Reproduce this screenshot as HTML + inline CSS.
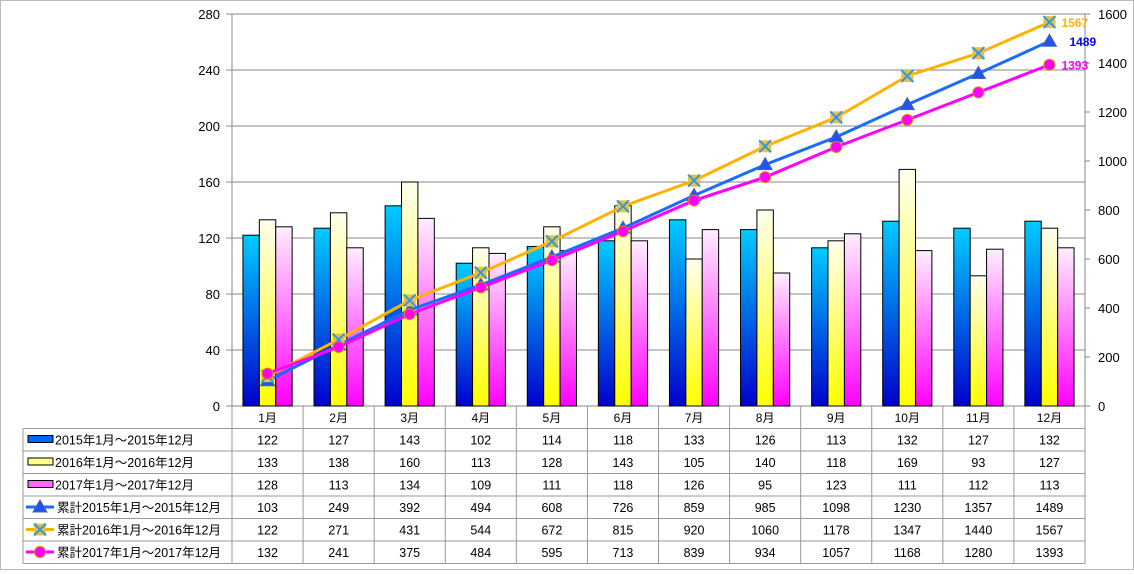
<!DOCTYPE html>
<html><head><meta charset="utf-8"><style>
body{margin:0;background:#fff;}
svg text{font-family:"Liberation Sans","Noto Sans CJK JP",sans-serif;}
</style></head><body>
<svg id="c" width="1134" height="570" xmlns="http://www.w3.org/2000/svg">
<defs>
<linearGradient id="g0" x1="0" y1="0" x2="0" y2="1"><stop offset="0" stop-color="#00ccff"/><stop offset="1" stop-color="#0000cc"/></linearGradient>
<linearGradient id="g1" x1="0" y1="0" x2="0" y2="1"><stop offset="0" stop-color="#ffffee"/><stop offset="1" stop-color="#ffff00"/></linearGradient>
<linearGradient id="g2" x1="0" y1="0" x2="0" y2="1"><stop offset="0" stop-color="#ffeeff"/><stop offset="1" stop-color="#ff00ff"/></linearGradient>
</defs>
<rect x="0.5" y="0.5" width="1133" height="569" fill="#fff" stroke="#bbb"/>
</svg>
<script>
const categories=["1月","2月","3月","4月","5月","6月","7月","8月","9月","10月","11月","12月"];
const bar2015=[122,127,143,102,114,118,133,126,113,132,127,132];
const bar2016=[133,138,160,113,128,143,105,140,118,169,93,127];
const bar2017=[128,113,134,109,111,118,126,95,123,111,112,113];
const cum2015=[103,249,392,494,608,726,859,985,1098,1230,1357,1489];
const cum2016=[122,271,431,544,672,815,920,1060,1178,1347,1440,1567];
const cum2017=[132,241,375,484,595,713,839,934,1057,1168,1280,1393];
const leftTicks=[0,40,80,120,160,200,240,280];
const rightTicks=[0,200,400,600,800,1000,1200,1400,1600];
const barNames=["2015年1月～2015年12月","2016年1月～2016年12月","2017年1月～2017年12月"];
const lineNames=["累計2015年1月～2015年12月","累計2016年1月～2016年12月","累計2017年1月～2017年12月"];

const svg=document.getElementById('c');const NS="http://www.w3.org/2000/svg";
const L=232,R=1085,T=14,B=406,cw=(R-L)/categories.length;
const yL=v=>B-v/280*(B-T), yR=v=>B-v/1600*(B-T), xC=i=>L+cw*(i+0.5);
function mk(t,a,p){const e=document.createElementNS(NS,t);for(const k in a)e.setAttribute(k,a[k]);(p||svg).appendChild(e);return e;}
mk('rect',{x:L,y:T,width:R-L,height:B-T,fill:'#fff',stroke:'#888'});
leftTicks.forEach(v=>{
 const g=mk('line',{x1:L-6,x2:R,y1:yL(v),y2:yL(v),stroke:'#888'});
 
 
 const t=mk('text',{x:L-12,y:yL(v)+5,'text-anchor':'end','font-size':13});t.textContent=v;
 
 
});
rightTicks.forEach(v=>{
 mk('line',{x1:R,x2:R+5,y1:yR(v),y2:yR(v),stroke:'#888'});
 const t=mk('text',{x:R+13,y:yR(v)+5,'font-size':13});t.textContent=v;
 
 
});
const bw=16.4;
[bar2015,bar2016,bar2017].forEach((s,si)=>{
 s.forEach((v,i)=>{
  const b=mk('rect',{x:xC(i)-bw*1.5+si*bw,y:yL(v),width:bw,height:B-yL(v),fill:'url(#g'+si+')',stroke:'#000','stroke-width':1});
  
  
 });
});
const lcol=['#1a6cff','#ffb300','#ff00ff'];
function marker(k,x,y,p){
 if(k==0)mk('polygon',{points:`${x},${y-7} ${x-7},${y+5} ${x+7},${y+5}`,fill:'#2255ee',stroke:'#4466aa'},p);
 else if(k==1){mk('rect',{x:x-6,y:y-6,width:12,height:12,fill:'#e8c040'},p);mk('path',{d:`M${x-6} ${y-6}L${x+6} ${y+6}M${x+6} ${y-6}L${x-6} ${y+6}`,stroke:'#3399dd','stroke-width':2},p);}
 else mk('circle',{cx:x,cy:y,r:5.5,fill:'#ff00ff',stroke:'#dd8800'},p);
}
[cum2015,cum2016,cum2017].forEach((s,si)=>{
 const l=mk('polyline',{points:s.map((v,i)=>xC(i)+','+yR(v)).join(' '),fill:'none',stroke:lcol[si],'stroke-width':3});
 
 
 s.forEach((v,i)=>marker(si,xC(i),yR(v)));
 const n=s.length-1;
 const t=mk('text',{x:xC(n)+(si==0?20:12),y:yR(s[n])+5,'font-size':12,'font-weight':'bold',fill:['#0000ff','#ffb300','#ff00ff'][si]});t.textContent=s[n];
 
 
});
// table
const TL=23,rh=22.5,rows=[bar2015,bar2016,bar2017,cum2015,cum2016,cum2017],names=barNames.concat(lineNames);
for(let i=0;i<=categories.length;i++)mk('line',{x1:L+cw*i,x2:L+cw*i,y1:B,y2:B+rh*7,stroke:'#999'});
mk('line',{x1:TL,x2:TL,y1:B+rh,y2:B+rh*7,stroke:'#999'});
for(let r=1;r<=7;r++)mk('line',{x1:TL,x2:R,y1:B+rh*r,y2:B+rh*r,stroke:'#999'});
categories.forEach((c,i)=>{const t=mk('text',{x:xC(i),y:B+16,'text-anchor':'middle','font-size':12});t.textContent=c;
 
 });
rows.forEach((s,r)=>{
 const y=B+rh*(r+1);
 const g=mk('g',{});
 
 
 if(r<3)mk('rect',{x:28,y:y+7,width:25,height:7,fill:['#0066ff','#ffff88','#ff66ff'][r],stroke:'#000'},g);
 else{mk('line',{x1:26,x2:54,y1:y+11,y2:y+11,stroke:lcol[r-3],'stroke-width':3},g);marker(r-3,40,y+11,g);}
 const t=mk('text',{x:r<3?55:57,y:y+16,'font-size':12.5},g);t.textContent=names[r];
 s.forEach((v,i)=>{const c=mk('text',{x:xC(i),y:y+16,'text-anchor':'middle','font-size':12.5});c.textContent=v;
  
  });
});
</script>
</body></html>
